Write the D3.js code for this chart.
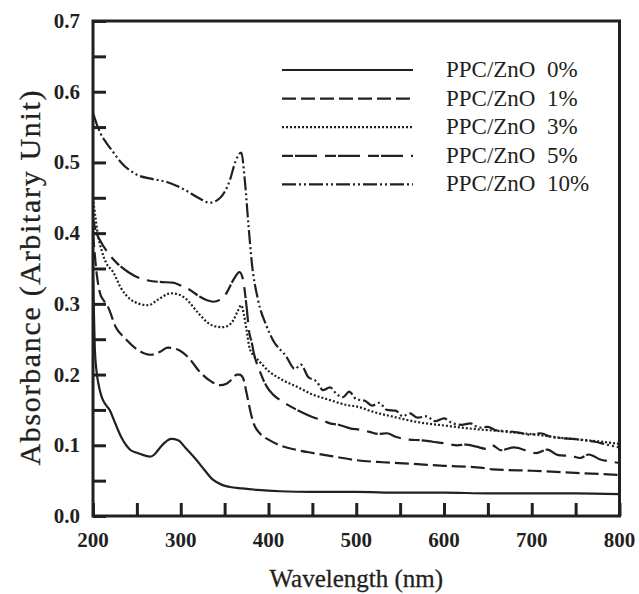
<!DOCTYPE html>
<html>
<head>
<meta charset="utf-8">
<script src="https://cdn.jsdelivr.net/npm/d3@7"></script>
<style>
  body { margin: 0; background: #fff; }
</style>
</head>
<body>
<div id="chart"></div>
<script>
// UV-vis absorbance, PPC/ZnO films
const wl0  = [200, 201, 202, 204, 206, 210, 213, 219, 225, 232, 243, 251, 265, 270, 274, 282, 289, 297, 305, 316, 327, 337, 347, 356, 370, 387, 413, 450, 500, 550, 600, 650, 700, 750, 800];
const abs0 = [0.34, 0.29, 0.24, 0.205, 0.188, 0.168, 0.16, 0.15, 0.132, 0.112, 0.093, 0.089, 0.084, 0.087, 0.093, 0.104, 0.109, 0.107, 0.097, 0.082, 0.065, 0.051, 0.044, 0.041, 0.039, 0.037, 0.035, 0.034, 0.034, 0.033, 0.033, 0.032, 0.032, 0.032, 0.031];

const wl1  = [200, 202, 205, 208, 212, 217, 226, 236, 251, 266, 276, 285, 297, 308, 323, 335, 345, 352, 358, 364, 367, 371, 375, 379, 383, 390, 400, 413, 430, 451, 475, 500, 530, 560, 600, 644, 655, 700, 750, 800];
const abs1 = [0.40, 0.37, 0.335, 0.315, 0.305, 0.296, 0.267, 0.252, 0.235, 0.228, 0.232, 0.238, 0.235, 0.225, 0.202, 0.19, 0.185, 0.187, 0.193, 0.2, 0.2, 0.195, 0.174, 0.15, 0.131, 0.117, 0.108, 0.1, 0.094, 0.089, 0.084, 0.079, 0.076, 0.074, 0.071, 0.068, 0.066, 0.064, 0.061, 0.058];

const wl3  = [200, 203, 206, 210, 215, 223, 232, 243, 253, 263, 274, 289, 298, 305, 320, 331, 340, 348, 355, 360, 365, 369, 372, 375, 378, 382, 387, 400, 415, 432, 450, 470, 489, 500, 520, 540, 569, 600, 644, 655, 680, 705, 730, 755, 780, 800];
const abs3 = [0.45, 0.42, 0.395, 0.375, 0.358, 0.345, 0.322, 0.306, 0.3, 0.298, 0.306, 0.315, 0.313, 0.308, 0.287, 0.273, 0.268, 0.267, 0.27, 0.277, 0.29, 0.298, 0.285, 0.263, 0.24, 0.228, 0.222, 0.205, 0.193, 0.183, 0.172, 0.164, 0.157, 0.155, 0.147, 0.141, 0.133, 0.128, 0.122, 0.121, 0.118, 0.115, 0.111, 0.108, 0.105, 0.102];

const wl5  = [200, 204, 208, 217, 227, 240, 250, 263, 276, 291, 300, 310, 322, 330, 337, 345, 352, 360, 367, 371, 375, 378, 381, 383, 390, 398, 405, 413, 425, 439, 450, 460, 470, 480, 493, 504, 515, 525, 535, 545, 560, 575, 587, 600, 615, 625, 637, 648, 655, 665, 680, 695, 705, 718, 730, 745, 755, 765, 778, 790, 800];
const abs5 = [0.42, 0.40, 0.39, 0.372, 0.358, 0.345, 0.338, 0.333, 0.331, 0.33, 0.326, 0.32, 0.31, 0.305, 0.303, 0.306, 0.315, 0.334, 0.345, 0.334, 0.296, 0.26, 0.245, 0.232, 0.205, 0.183, 0.172, 0.164, 0.155, 0.146, 0.14, 0.136, 0.131, 0.129, 0.124, 0.122, 0.119, 0.116, 0.117, 0.112, 0.108, 0.107, 0.105, 0.103, 0.1, 0.101, 0.098, 0.095, 0.1, 0.093, 0.097, 0.092, 0.089, 0.094, 0.086, 0.085, 0.082, 0.087, 0.08, 0.077, 0.075];

const wl10  = [200, 204, 209, 215, 221, 232, 251, 266, 285, 305, 320, 333, 345, 356, 362, 369, 373, 377, 381, 388, 398, 405, 420, 430, 437, 445, 455, 462, 470, 478, 485, 492, 500, 510, 518, 526, 535, 545, 553, 561, 570, 580, 590, 600, 610, 620, 630, 640, 650, 660, 672, 685, 697, 710, 722, 735, 748, 760, 772, 785, 800];
const abs10 = [0.57, 0.555, 0.54, 0.528, 0.518, 0.5, 0.482, 0.477, 0.472, 0.461, 0.45, 0.443, 0.45, 0.475, 0.5, 0.514, 0.475, 0.414, 0.358, 0.306, 0.268, 0.249, 0.226, 0.208, 0.214, 0.197, 0.19, 0.178, 0.182, 0.172, 0.168, 0.176, 0.165, 0.163, 0.156, 0.16, 0.15, 0.149, 0.141, 0.145, 0.139, 0.141, 0.134, 0.138, 0.131, 0.129, 0.131, 0.125, 0.126, 0.121, 0.12, 0.118, 0.115, 0.117, 0.112, 0.11, 0.109, 0.107, 0.105, 0.101, 0.097];

const labels = ["PPC/ZnO  0%", "PPC/ZnO  1%", "PPC/ZnO  3%", "PPC/ZnO  5%", "PPC/ZnO  10%"];
const xTicks = [200, 300, 400, 500, 600, 700, 800];
const yTicks = [0.0, 0.1, 0.2, 0.3, 0.4, 0.5, 0.6, 0.7];

const series = [
  { wl: wl0,  abs: abs0,  dash: null },
  { wl: wl1,  abs: abs1,  dash: "14,5" },
  { wl: wl3,  abs: abs3,  dash: "2,2" },
  { wl: wl5,  abs: abs5,  dash: "11,2,22,8" },
  { wl: wl10, abs: abs10, dash: "14,3,2,3,2,3" }
];

const width = 639, height = 594;
const ink = "#231f20";
const font = "'Liberation Serif', 'DejaVu Serif', 'Times New Roman', serif";
const plotL = 93, plotR = 619.5, plotT = 21, plotB = 516;

const svg = d3.select("#chart").append("svg")
  .attr("width", width)
  .attr("height", height)
  .style("font-family", font);

const x = d3.scaleLinear().domain([200, 800]).range([plotL, plotR]);
const y = d3.scaleLinear().domain([0, 0.7]).range([plotB, plotT]);

svg.append("clipPath").attr("id", "clip")
  .append("rect").attr("x", plotL).attr("y", plotT)
  .attr("width", plotR - plotL).attr("height", plotB - plotT);

const line = d3.line()
  .x(d => x(d[0]))
  .y(d => y(d[1]))
  .curve(d3.curveMonotoneX);

svg.append("g").attr("clip-path", "url(#clip)")
  .selectAll("path")
  .data(series)
  .join("path")
  .attr("d", s => line(s.wl.map((w, i) => [w, s.abs[i]])))
  .attr("fill", "none")
  .attr("stroke", ink)
  .attr("stroke-width", 2.2)
  .attr("stroke-dasharray", s => s.dash);

// ticks, inward
const xAxis = svg.append("g").attr("transform", `translate(0,${plotB})`)
  .call(d3.axisBottom(x).tickValues(d3.range(200, 801, 50)).tickSize(-13).tickFormat(""));
const yAxis = svg.append("g").attr("transform", `translate(${plotL},0)`)
  .call(d3.axisLeft(y).tickValues(d3.range(0, 0.701, 0.05)).tickSize(-13).tickFormat(""));
[xAxis, yAxis].forEach(g => {
  g.select(".domain").remove();
  g.selectAll("line").attr("stroke", ink).attr("stroke-width", 3);
});

// frame
svg.append("rect")
  .attr("x", plotL).attr("y", plotT)
  .attr("width", plotR - plotL).attr("height", plotB - plotT)
  .attr("fill", "none").attr("stroke", ink).attr("stroke-width", 3);

// tick labels
svg.append("g").selectAll("text")
  .data(xTicks)
  .join("text")
  .attr("x", d => x(d))
  .attr("y", 547)
  .attr("text-anchor", "middle")
  .attr("font-family", font)
  .attr("font-size", 21)
  .attr("font-weight", "bold")
  .attr("fill", ink)
  .text(d => d);

svg.append("g").selectAll("text")
  .data(yTicks)
  .join("text")
  .attr("x", 80)
  .attr("y", d => y(d) + 7)
  .attr("text-anchor", "end")
  .attr("font-family", font)
  .attr("font-size", 21)
  .attr("font-weight", "bold")
  .attr("fill", ink)
  .text(d => d.toFixed(1));

// axis titles
svg.append("text")
  .attr("x", (plotL + plotR) / 2)
  .attr("y", 587)
  .attr("text-anchor", "middle")
  .attr("font-family", font)
  .attr("font-size", 25)
  .attr("fill", ink)
  .attr("stroke", ink)
  .attr("stroke-width", 0.3)
  .text("Wavelength (nm)");

svg.append("text")
  .attr("transform", "translate(40,278) rotate(-90)")
  .attr("text-anchor", "middle")
  .attr("font-family", font)
  .attr("font-size", 30)
  .attr("textLength", 375)
  .attr("lengthAdjust", "spacing")
  .attr("fill", ink)
  .attr("stroke", ink)
  .attr("stroke-width", 0.3)
  .text("Absorbance (Arbitary Unit)");

// legend
const legend = svg.append("g").selectAll("g")
  .data(series)
  .join("g")
  .attr("transform", (d, i) => `translate(0,${70 + i * 28.6})`);

legend.append("line")
  .attr("x1", 282).attr("x2", 413)
  .attr("stroke", ink)
  .attr("stroke-width", 2.2)
  .attr("stroke-dasharray", d => d.dash);

legend.append("text")
  .attr("x", 446)
  .attr("y", 7)
  .attr("font-family", font)
  .attr("font-size", 23)
  .attr("fill", ink)
  .style("white-space", "pre")
  .text((d, i) => labels[i]);
</script>
</body>
</html>
